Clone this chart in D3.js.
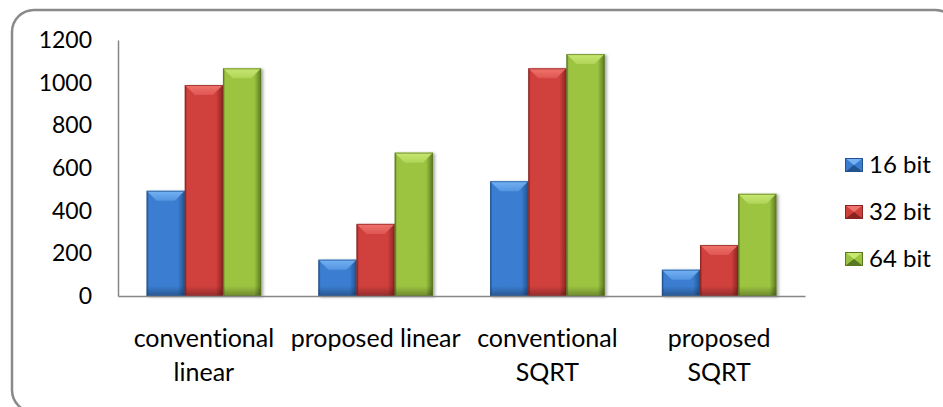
<!DOCTYPE html>
<html lang="en">
<head>
    <meta charset="UTF-8">
    <title>Bit width comparison</title>
    <style>
        body { margin: 0; background: #fff; }
        text { font-family: Lato, "Open Sans", sans-serif; fill: #000; font-variant-ligatures: none; }
    </style>
</head>
<body>
<script type='text/javascript' src='https://d3js.org/d3.v7.min.js'></script>
<script>
    // values
    const categories = ["conventional linear", "proposed linear", "conventional SQRT", "proposed SQRT"];
    const tickLines = [["conventional", "linear"], ["proposed linear"], ["conventional", "SQRT"], ["proposed", "SQRT"]];
    const seriesNames = ["16 bit", "32 bit", "64 bit"];
    const bit16 = [493, 170, 538, 123];
    const bit32 = [989, 338, 1067, 239];
    const bit64 = [1067, 672, 1134, 479];
    const yTicks = [0, 200, 400, 600, 800, 1000, 1200];

    const seriesValues = [bit16, bit32, bit64];
    // base / light (top facet) / dark (edges)
    const colors = [
        {base: "#3a7dd0", light: "#74b2f4", dark: "#22538f"},
        {base: "#d03f3c", light: "#f0736d", dark: "#8a2422"},
        {base: "#9cc441", light: "#c8e872", dark: "#5a7820"}
    ];

    const width = 943, height = 407;
    const plotLeft = 118, plotRight = 805, plotTop = 40, plotBottom = 296;
    const bevel = 10;

    const svg = d3.select("body").append("svg")
        .attr("width", width)
        .attr("height", height);

    // outer frame (right and bottom run off the picture)
    svg.append("rect")
        .attr("x", 12).attr("y", 10)
        .attr("width", 945).attr("height", 402)
        .attr("rx", 22)
        .attr("fill", "#fff")
        .attr("stroke", "#8a8a8a")
        .attr("stroke-width", 2.5);

    const defs = svg.append("defs");
    const shadow = defs.append("filter").attr("id", "shadow")
        .attr("x", "-20%").attr("y", "-10%").attr("width", "150%").attr("height", "130%");
    shadow.append("feDropShadow")
        .attr("dx", 2).attr("dy", 1).attr("stdDeviation", 1.6)
        .attr("flood-color", "#000").attr("flood-opacity", 0.35);

    colors.forEach((c, i) => {
        const g = defs.append("linearGradient").attr("id", "front" + i)
            .attr("x1", 0).attr("x2", 1).attr("y1", 0).attr("y2", 0);
        g.append("stop").attr("offset", "0%").attr("stop-color", c.dark);
        g.append("stop").attr("offset", "6%").attr("stop-color", c.base);
        g.append("stop").attr("offset", "82%").attr("stop-color", c.base);
        g.append("stop").attr("offset", "100%").attr("stop-color", c.dark);

        const t = defs.append("linearGradient").attr("id", "topf" + i)
            .attr("x1", 0).attr("x2", 0).attr("y1", 0).attr("y2", 1);
        t.append("stop").attr("offset", "0%").attr("stop-color", c.light);
        t.append("stop").attr("offset", "100%").attr("stop-color", c.light).attr("stop-opacity", 0.45);
    });

    const bot = defs.append("linearGradient").attr("id", "bottomShade")
        .attr("x1", 0).attr("x2", 0).attr("y1", 0).attr("y2", 1);
    bot.append("stop").attr("offset", "0%").attr("stop-color", "#000").attr("stop-opacity", 0);
    bot.append("stop").attr("offset", "100%").attr("stop-color", "#000").attr("stop-opacity", 0.3);

    const x0 = d3.scaleBand()
        .domain(categories)
        .range([plotLeft, plotRight])
        .paddingInner(1 / 3)
        .paddingOuter(1 / 6);

    const x1 = d3.scaleBand()
        .domain(d3.range(seriesNames.length))
        .range([0, x0.bandwidth()]);

    const y = d3.scaleLinear()
        .domain([0, 1200])
        .range([plotBottom, plotTop]);

    // y axis
    const yAxis = svg.append("g")
        .attr("transform", `translate(${plotLeft},0)`)
        .call(d3.axisLeft(y).tickValues(yTicks).tickFormat(d3.format("d"))
            .tickSize(0).tickPadding(26).tickSizeOuter(0));
    yAxis.select(".domain").attr("stroke", "#868686").attr("stroke-width", 1.5);
    yAxis.selectAll("text").attr("font-size", 23).attr("font-family", "Lato");

    // bars
    const bars = [];
    categories.forEach((cat, ci) => {
        seriesValues.forEach((vals, si) => {
            bars.push({cat: cat, s: si, v: vals[ci]});
        });
    });

    const barG = svg.append("g").selectAll("g")
        .data(bars)
        .enter()
        .append("g")
        .attr("filter", "url(#shadow)");

    barG.each(function (d) {
        const g = d3.select(this);
        const bx = x0(d.cat) + x1(d.s);
        const bw = x1.bandwidth();
        const by = y(d.v);
        const bh = y(0) - y(d.v);
        const c = colors[d.s];
        const b = Math.min(bevel, bh / 2);

        g.append("rect")
            .attr("x", bx).attr("y", by)
            .attr("width", bw).attr("height", bh)
            .attr("fill", `url(#front${d.s})`);
        g.append("rect")
            .attr("x", bx).attr("y", by + bh - 10)
            .attr("width", bw).attr("height", 10)
            .attr("fill", "url(#bottomShade)");
        g.append("polygon")
            .attr("points", [[bx, by], [bx + bw, by], [bx + bw - b, by + b], [bx + b, by + b]].join(" "))
            .attr("fill", `url(#topf${d.s})`);
        g.append("rect")
            .attr("x", bx + 0.5).attr("y", by + 0.5)
            .attr("width", bw - 1).attr("height", bh - 1)
            .attr("fill", "none")
            .attr("stroke", c.dark)
            .attr("stroke-opacity", 0.7)
            .attr("stroke-width", 1);
    });

    // x axis
    const xAxis = svg.append("g")
        .attr("transform", `translate(0,${plotBottom})`)
        .call(d3.axisBottom(x0).tickSize(0).tickSizeOuter(0).tickFormat(""));
    xAxis.select(".domain").attr("stroke", "#868686").attr("stroke-width", 1.5);

    xAxis.selectAll(".tick").each(function (d, i) {
        const t = d3.select(this).select("text")
            .attr("y", 0).attr("dy", null)
            .attr("font-size", 25)
            .attr("font-family", "Lato")
            .attr("text-anchor", "middle");
        tickLines[i].forEach((line, li) => {
            t.append("tspan")
                .attr("x", 0)
                .attr("y", 51 + li * 34)
                .text(line);
        });
    });

    // legend
    const legend = svg.append("g").selectAll("g")
        .data(seriesNames)
        .enter()
        .append("g")
        .attr("transform", (d, i) => `translate(845,${158 + i * 47})`);

    legend.each(function (d, i) {
        const g = d3.select(this);
        const c = colors[i];
        const w = 18, h = 14;
        g.append("rect").attr("width", w).attr("height", h).attr("fill", c.base);
        g.append("polygon").attr("points", [[0, 0], [w, 0], [w / 2, h / 2]].join(" ")).attr("fill", c.light);
        g.append("polygon").attr("points", [[0, h], [w, h], [w / 2, h / 2]].join(" ")).attr("fill", c.dark);
        g.append("rect").attr("x", 0.5).attr("y", 0.5).attr("width", w - 1).attr("height", h - 1)
            .attr("fill", "none").attr("stroke", c.dark).attr("stroke-width", 1);
        g.append("text")
            .attr("x", 24)
            .attr("y", 15)
            .attr("font-size", 24)
            .text(d);
    });
</script>
</body>
</html>
